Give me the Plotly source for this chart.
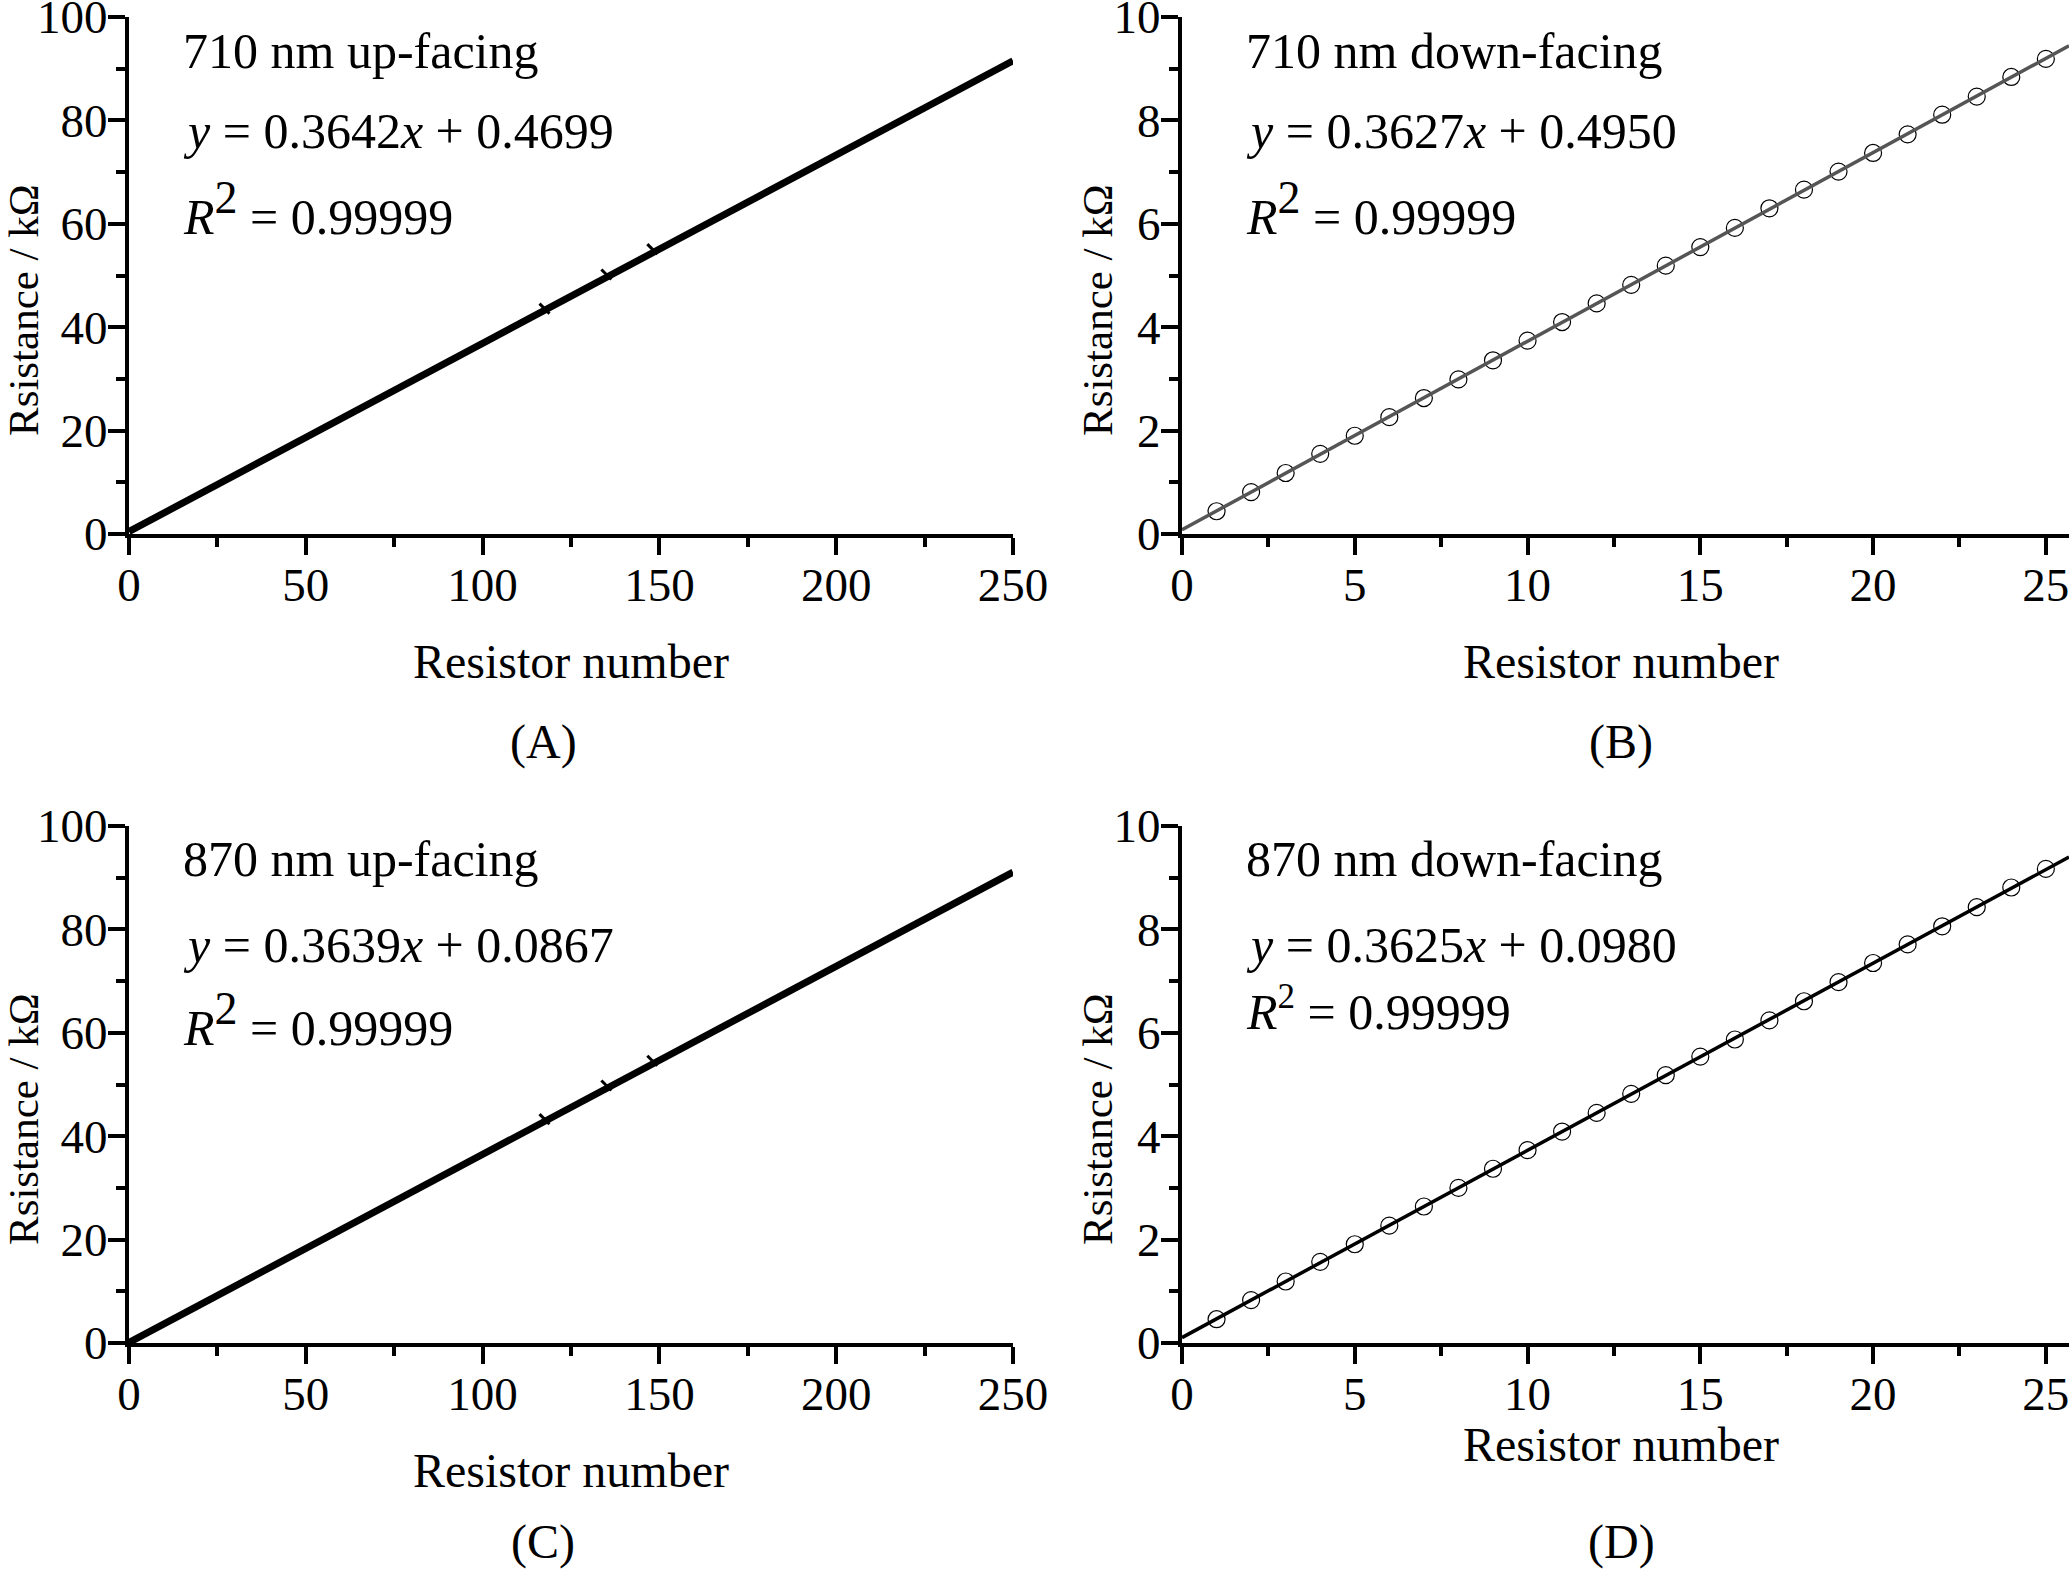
import numpy as np
import plotly.graph_objects as go

W, H = 2069, 1574
OFF = 0
FONT = "Liberation Serif"

# ---------------- data ----------------
# Panels A / C: dense series shown by their fitted lines (coefficients from the figure text)
A_slope, A_intercept = 0.3642, 0.4699
C_slope, C_intercept = 0.3639, 0.0867
AC_x_range = [0, 250]
# small visible irregularities on the A/C traces
A_bump_x = [117.5, 135, 148]
A_bump_y = [43.6, 50.2, 55.1]
C_bump_x = [117.5, 135, 148]
C_bump_y = [43.3, 49.8, 54.6]

# Panels B / D: 25 resistors
BD_x = list(range(1, 26))
B_y = [0.44, 0.81, 1.18, 1.55, 1.90, 2.26, 2.63, 2.99, 3.36, 3.74, 4.10, 4.46, 4.82,
       5.19, 5.55, 5.92, 6.30, 6.66, 7.01, 7.37, 7.73, 8.11, 8.46, 8.84, 9.19]
D_y = [0.46, 0.83, 1.19, 1.57, 1.91, 2.27, 2.64, 3.00, 3.37, 3.73, 4.09, 4.45, 4.82,
       5.18, 5.54, 5.87, 6.24, 6.61, 6.98, 7.35, 7.71, 8.06, 8.43, 8.81, 9.17]
BD_x_range = [0, 25.67]

labels_top = ["710 nm up-facing", "710 nm down-facing", "870 nm up-facing", "870 nm down-facing"]
eqs = ["<i>y</i> = 0.3642<i>x</i> + 0.4699", "<i>y</i> = 0.3627<i>x</i> + 0.4950",
       "<i>y</i> = 0.3639<i>x</i> + 0.0867", "<i>y</i> = 0.3625<i>x</i> + 0.0980"]
r2s = ["0.99999", "0.99999", "0.99999", "0.99999"]
panel_tags = ["(A)", "(B)", "(C)", "(D)"]
x_title = "Resistor number"
y_title = "Rsistance / kΩ"

# ---------------- figure ----------------
fig = go.Figure()

def px_x(p):
    return (p - OFF) / W

def px_y(p):
    return 1 - (p - OFF) / H

dom_x = {1: [px_x(129), px_x(1013)], 2: [px_x(1182), 1.0],
         3: [px_x(129), px_x(1013)], 4: [px_x(1182), 1.0]}
dom_y = {1: [px_y(534), px_y(17)], 2: [px_y(534), px_y(17)],
         3: [px_y(1343), px_y(826)], 4: [px_y(1343), px_y(826)]}

def ax(i):
    return ("x" if i == 1 else f"x{i}"), ("y" if i == 1 else f"y{i}")

# A and C thick lines
for i, s, b, bx, by in [(1, A_slope, A_intercept, A_bump_x, A_bump_y),
                        (3, C_slope, C_intercept, C_bump_x, C_bump_y)]:
    xa, ya = ax(i)
    xs = np.array(AC_x_range, dtype=float)
    fig.add_trace(go.Scatter(x=xs, y=s * xs + b, mode="lines", xaxis=xa, yaxis=ya,
                             line=dict(color="black", width=7), showlegend=False))
    fig.add_trace(go.Scatter(x=bx, y=by, mode="markers", xaxis=xa, yaxis=ya,
                             marker=dict(symbol="line-nw", size=10, color="black",
                                         line=dict(color="black", width=3)),
                             showlegend=False))

# B and D scatter + fitted line
for i, yv, col in [(2, B_y, "#555555"), (4, D_y, "black")]:
    xa, ya = ax(i)
    fig.add_trace(go.Scatter(x=BD_x, y=yv, mode="markers", xaxis=xa, yaxis=ya,
                             marker=dict(symbol="circle-open", size=17, color="black",
                                         line=dict(color="black", width=1.2)),
                             showlegend=False))
    k, c = np.polyfit(BD_x, yv, 1)
    xs = np.array(BD_x_range, dtype=float)
    fig.add_trace(go.Scatter(x=xs, y=k * xs + c, mode="lines", xaxis=xa, yaxis=ya,
                             line=dict(color=col, width=3.5), showlegend=False))

axis_common = dict(showline=True, linecolor="black", linewidth=4, ticks="outside",
                   ticklen=17, tickwidth=3.5, tickcolor="black", showgrid=False,
                   zeroline=False, mirror=False, automargin=False,
                   ticklabeloverflow="allow",
                   tickfont=dict(family=FONT, size=47, color="black"))

layout = dict(width=W, height=H, margin=dict(l=0, r=0, t=0, b=0, pad=0, autoexpand=False),
              paper_bgcolor="white", plot_bgcolor="white", showlegend=False)

for i in range(1, 5):
    xk = "xaxis" if i == 1 else f"xaxis{i}"
    yk = "yaxis" if i == 1 else f"yaxis{i}"
    xa, ya = ax(i)
    if i in (1, 3):
        xr, xd, xm = AC_x_range, 50, 25
        yr, yd, ym = [0, 100], 20, 10
    else:
        xr, xd, xm = BD_x_range, 5, 2.5
        yr, yd, ym = [0, 10], 2, 1
    layout[xk] = dict(axis_common, domain=dom_x[i], range=xr, dtick=xd, tick0=0,
                      anchor=ya, ticklabelstandoff=-10,
                      minor=dict(dtick=xm, tick0=0, ticks="outside", ticklen=9,
                                 tickwidth=3.5, tickcolor="black", showgrid=False))
    layout[yk] = dict(axis_common, domain=dom_y[i], range=yr, dtick=yd, tick0=0,
                      anchor=xa, ticklabelstandoff=-9,
                      minor=dict(dtick=ym, tick0=0, ticks="outside", ticklen=9,
                                 tickwidth=3.5, tickcolor="black", showgrid=False))

fig.update_layout(**layout)

ann = []
def add_text(text, x, y, size, xanchor="center", yanchor="middle", angle=0):
    ann.append(dict(text=text, x=px_x(x), y=px_y(y), xref="paper", yref="paper",
                    xanchor=xanchor, yanchor=yanchor, showarrow=False, textangle=angle,
                    font=dict(family=FONT, size=size, color="black")))

# panel text blocks
text_x = [181, 1244, 181, 1244]
text_rows = [(51, 131, 208), (51, 131, 208), (859, 945, 1020), (859, 945, 1008)]
for i in range(4):
    r0, r1, r2 = text_rows[i]
    add_text(labels_top[i], text_x[i], r0, 50, xanchor="left")
    add_text(eqs[i], text_x[i], r1, 50, xanchor="left")
    if i < 3:
        rtxt = "<i>R</i><sup><span style='font-size:46px'>2</span></sup> = " + r2s[i]
    else:
        rtxt = "<i>R</i><sup>2</sup> = " + r2s[i]
    add_text(rtxt, text_x[i], r2, 50, xanchor="left")

# axis titles
xt_pos = [(571, 661), (1621, 661), (571, 1470), (1621, 1444)]
yt_pos = [(23, 310), (1097, 310), (23, 1119), (1097, 1119)]
tag_pos = [(543, 742), (1621, 742), (543, 1542), (1621, 1542)]
for i in range(4):
    add_text(x_title, *xt_pos[i], 48)
    add_text(y_title, *yt_pos[i], 43, angle=-90)
    add_text(panel_tags[i], *tag_pos[i], 48)

fig.update_layout(annotations=ann)
fig.write_html("out.html", config={"displayModeBar": False},
               post_script="document.body.style.margin='0px';document.body.style.overflow='hidden';")
